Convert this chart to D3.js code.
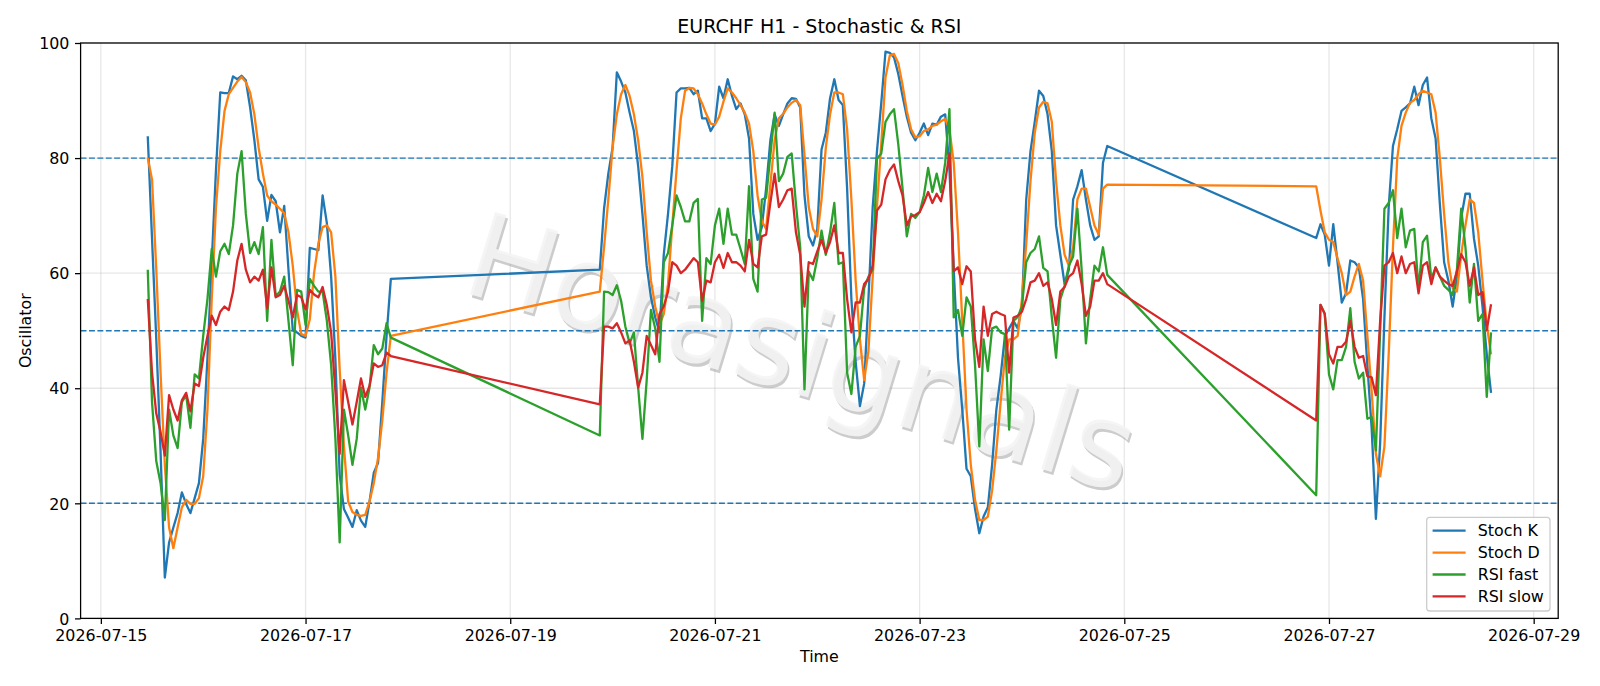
<!DOCTYPE html>
<html><head><meta charset="utf-8">
<script src="https://cdn.jsdelivr.net/npm/d3@7"></script>
<style>
body{margin:0;background:#fff;}
svg{display:block;font-family:"DejaVu Sans",sans-serif;}
</style>
</head><body>
<svg id="chart" width="1600" height="686"></svg>
<script>
// ---- data (hourly bars, three sessions) ----
const segmentStarts = ["2026-07-15T11:00:00Z", "2026-07-19T21:00:00Z", "2026-07-26T21:00:00Z"];
const segmentLengths = [58, 120, 42];

const stochK = [
  83.8,66,48.5,29,7.1,13.2,15.8,18.3,21.9,19.9,
  18.3,20.9,23.5,31.2,45.3,61.9,78,91.4,91.3,91.3,
  94.2,93.7,94.3,93.5,88.8,83.1,76.3,75,69.1,73.6,
  72.5,67.1,71.7,60.6,50.1,49.7,49.1,48.8,64.4,64.2,
  64,73.5,68.7,59.4,45,25,19,17.5,15.9,18.8,
  17,15.9,20.3,25.3,27,37.6,49.1,59,
  60.6,71.2,77.3,81.8,94.9,93.3,91.4,87.9,84.7,78.6,
  70.3,61.3,55.8,52.3,49.7,63.2,70.3,78.6,91.4,92.1,
  92.1,92.2,91.1,91.7,86.9,86.9,84.7,86,92.4,90.4,
  93.7,90.8,88.5,89.5,87.6,83.4,70.3,65.8,68,74.7,
  83.1,87.6,85.6,87.6,89.5,90.4,90.3,88.8,73.5,66.4,
  64.8,67.7,81.5,84.4,90.4,93.7,90.1,89.2,74.7,55.5,
  44.6,36.9,40.8,55.5,71.5,81.2,89.5,98.5,98.3,97.5,
  94.6,90.8,87.2,84.4,83.1,84.4,86,84,86,85.8,
  87.2,87.6,78,60.6,45.3,36.3,26,24.7,19,14.8,
  17.7,19.3,26.7,36.3,42.1,49.1,50.4,51.7,50.4,54.2,
  72.8,81.2,86.3,91.7,90.8,87.6,81.2,68.3,63.2,58.1,
  60.6,72.8,75.1,77.9,72.8,68.3,65.8,66.4,79.2,82.1,
  66.1,68.5,66.7,61.3,68.5,61.9,54.9,56.5,62.2,61.9,
  61,55.5,44,33.1,17.3,30.5,52.3,71.5,82.1,85,
  88.2,88.8,89.5,92.4,89.2,92.7,94,86.9,83.4,72,
  61.9,58.7,54.2,59.4,69.6,73.8,73.8,66,61.3,54.2,
  45.9,39.2
];
const stochD = [
  80,76.3,60.6,42.7,26.7,15.8,12.2,15.8,19.3,20.6,
  19.9,19.9,20.9,24.7,36.3,55.5,71.5,81.2,88.2,91.1,
  92.2,93.3,94.1,93.2,91.4,87.6,81.8,77.3,73.5,72.5,
  71.9,71.2,70.4,67.1,61.3,53.6,49.4,49.1,52,60,
  65.1,68,68.3,67.1,59.4,43.3,29.9,20.3,18.5,18,
  17.8,18,20.3,23.5,27.9,34.4,42.7,49.1,
  56.8,64.5,72.8,81.8,87.6,91.1,92.7,90.8,87.6,83.1,
  76.7,67.1,58.7,54.2,51,52.9,58.1,68.3,77.9,86.9,
  91.7,92.2,92.1,91.1,89.5,87.6,86,85.8,87.2,89.8,
  92.1,91.4,90.4,89.2,87.9,86,81.2,73.5,69,67.7,
  75.4,83.1,86.9,87.7,88.8,89.6,90.1,89.2,80.5,71.5,
  67.7,66.4,72.8,81.8,87.6,91.4,91.4,91.1,85,72.8,
  58.7,48.5,41.4,46.5,59.4,71.5,82.4,94,97.8,98.1,
  96.5,92.7,88.2,85,83.6,83.8,84.7,85,85.6,85.8,
  86.4,86.8,85,79.2,67.1,51.7,36.3,26.7,20.6,17.1,
  17.1,17.7,22.2,29.2,37.6,45.3,48.5,48.5,49.1,55.5,
  65.1,76,84.4,88.8,89.8,89.5,86.3,76,68.3,63.2,
  61.3,64.5,72.8,74.7,74.7,71.5,68.3,66.7,74.7,75.4,
  75.1,70.9,67.1,65.8,65.4,62.6,60,56.2,56.8,59.4,
  61.6,58.7,49.1,39.5,28.6,24.7,29.9,45.9,64.5,79.9,
  85.6,87.9,89.6,90.1,91.1,91.7,91.4,91.1,87.9,79.9,
  70.3,61.9,57.4,56.8,63.2,68.3,72.8,72.2,67.1,58.7,
  51,45.9
];
const rsiFast = [
  60.6,37.6,27.3,23.5,17.1,36.3,31.8,29.6,37.6,38.8,
  33.1,42.4,41.7,49.1,55.5,64.2,59.4,63.8,65.1,63.3,
  68.3,77.3,81.2,70.3,63.5,65.4,63.3,68,51.7,65.8,
  56,56.8,59.4,51.7,44,57.1,56.8,51,59,57.8,
  56.8,56.8,51.7,44,31.2,13.2,36.3,31.8,26.7,31.2,
  40.1,36.3,40.1,47.5,45.9,46.9,51.3,48.8,
  31.8,56.8,56.7,56.2,57.9,55.2,50.7,47.8,49.7,40.1,
  31.2,41.4,53.6,50.4,44.6,61.9,63.5,68.3,73.5,71.5,
  69,69,72.2,72.9,51.7,62.6,61.6,68.3,71.2,65.1,
  71.2,66.7,66.7,64.2,61.6,75.1,59,56.8,72.8,73.1,
  80.5,87.9,76,77.3,80.2,80.8,72,64.5,39.8,60.3,
  58.8,62.6,67.4,63.2,67.1,72.2,61.6,61.9,42.7,39,
  47.2,49.1,57.4,59.4,60.6,79.9,80.8,86.3,87.6,88.5,
  82.4,74.7,66.4,70.3,69.6,70.6,73.5,78.3,74.1,77.3,
  74.1,79.2,88.5,52.3,53.6,49.1,55.8,54.2,44,29.9,
  48.5,43,50.4,50.7,49.7,49.4,32.8,51.7,52.4,54.2,
  61.9,63.5,64.2,66.4,60.9,60.3,52.3,45.3,55.5,57.8,
  61.3,62.9,71.2,60.6,47.8,55.5,61.3,60.3,64.5,59.7,
  21.4,54.5,53,42.4,39.8,44.9,44.9,47.2,53.9,44.6,
  41.7,42.7,34.7,35,29.2,50,71.2,72.2,74.4,66.1,
  71.2,64.5,67.4,67.7,57.1,65.4,66.5,59,61,59.4,
  57.8,57.1,56.2,60.6,71.2,64.5,54.9,61.6,51.7,52.9,
  38.5,49.7
];
const rsiSlow = [
  55.5,42.7,35.6,32.4,28.3,38.8,36.3,34.4,37.9,39.2,
  36,40.8,40.4,45.3,49.1,52.6,51,53.3,54.2,53.6,
  56.8,62.2,65.1,60.6,58.4,59.4,58.7,60.6,53.9,61,
  55.8,56.2,57.8,55.2,52.3,56.2,55.8,53.7,57.1,56.3,
  55.8,57.6,54.4,49.7,39.5,28.6,41.4,37.6,33.7,37.6,
  41.7,38.5,40.4,44.3,43.7,44,46.2,45.6,
  37.2,50.7,50.7,50.4,51.3,49.7,47.8,48.3,44.6,40.1,
  42.7,49.1,47.5,45.9,52.9,54.2,56.8,61.9,61.3,60,
  60.6,61.6,62.6,61.9,55.2,58.7,58.4,61.9,63.2,60.9,
  63.5,61.9,61.9,61.3,60.3,65.8,61.6,61,66.4,66.7,
  72.2,77.3,71.5,72.8,74.4,74.7,67.1,63.2,54.2,61.9,
  61.6,63.8,65.8,63.5,65.4,68.3,63.5,63.5,55.5,49.7,
  54.9,54.9,58.1,59,61.3,70.9,71.9,76.3,77.9,78.9,
  76,73.5,68.3,69.9,70.1,70.6,72.2,74.1,72.2,73.8,
  72.5,76,80.8,60.3,61,58.1,61.2,60.3,48.5,43.7,
  54.2,49.1,52.9,53.3,52.9,52.6,42.7,52.3,52.6,53.3,
  55.5,58.4,58.7,60,57.8,58.4,55.5,51,56.8,57.6,
  59.4,60,62.2,58.1,52.6,54.2,58.7,58.7,60,58.1,
  34.4,54.5,52.9,45.9,44.3,47.2,47.2,48.1,51.7,47.2,
  45.3,45.6,42.1,41.9,38.8,51.7,61.3,61.9,63.5,60,
  62.9,60,61.6,61.9,56.5,61.3,61.9,58.1,61,59.4,
  58.7,58.1,57.8,60.3,63.3,61.9,57.8,61,56.2,56.7,
  50.1,54.6
];

const seriesNames = ["Stoch K", "Stoch D", "RSI fast", "RSI slow"];
const seriesColors = ["#1f77b4", "#ff7f0e", "#2ca02c", "#d62728"];
const xTickLabels = ["2026-07-15","2026-07-17","2026-07-19","2026-07-21","2026-07-23","2026-07-25","2026-07-27","2026-07-29"];
const yTicks = [0, 20, 40, 60, 80, 100];
const refLevels = [20, 50, 80];
const titleText = "EURCHF H1 - Stochastic & RSI";
const watermarkText = "Horasignals";

// ---- build timestamps ----
const times = [];
segmentStarts.forEach((s, i) => {
  const t0 = new Date(s).getTime();
  for (let k = 0; k < segmentLengths[i]; k++) times.push(new Date(t0 + k * 3600e3));
});
const allSeries = [stochK, stochD, rsiFast, rsiSlow];

// ---- layout ----
const svg = d3.select("#chart");
const L = 80.6, R = 1558.2, T = 43, B = 618.4;
const tMin = times[0].getTime(), tMax = times[times.length - 1].getTime();
const pad = (tMax - tMin) * 0.05;
const x = d3.scaleUtc().domain([new Date(tMin - pad), new Date(tMax + pad)]).range([L, R]);
const y = d3.scaleLinear().domain([0, 100]).range([B, T]);
const xTicks = xTickLabels.map(s => new Date(s + "T00:00:00Z"));

svg.append("rect").attr("width", 1600).attr("height", 686).attr("fill", "#fff");

// grid
const grid = svg.append("g").attr("stroke", "#b0b0b0").attr("stroke-opacity", 0.3).attr("stroke-width", 1.27);
grid.selectAll(".gx").data(xTicks).join("line")
  .attr("x1", d => x(d)).attr("x2", d => x(d)).attr("y1", T).attr("y2", B);
grid.selectAll(".gy").data(yTicks).join("line")
  .attr("x1", L).attr("x2", R).attr("y1", d => y(d)).attr("y2", d => y(d));

// watermark
const wm = svg.append("g").attr("transform", "translate(790,392) rotate(17)")
  .attr("font-size", 118).attr("text-anchor", "middle");
wm.append("text").attr("x", 2.5).attr("y", 2.5).attr("fill", "#9a9a9a").attr("fill-opacity", 0.5).text(watermarkText);
wm.append("text").attr("fill", "#f4f4f4").attr("fill-opacity", 0.9).text(watermarkText);

// reference levels
svg.append("g").selectAll("line").data(refLevels).join("line")
  .attr("x1", L).attr("x2", R).attr("y1", d => y(d)).attr("y2", d => y(d))
  .attr("stroke", "#1f77b4").attr("stroke-width", 1.4).attr("stroke-dasharray", "5.9,2.5");

// lines
const line = d3.line().x(d => x(d[0])).y(d => y(d[1]));
allSeries.forEach((vals, i) => {
  svg.append("path").datum(times.map((t, k) => [t, vals[k]]))
    .attr("d", line).attr("fill", "none").attr("stroke", seriesColors[i])
    .attr("stroke-width", 2.3).attr("stroke-linejoin", "round");
});

// spines
svg.append("rect").attr("x", L).attr("y", T).attr("width", R - L).attr("height", B - T)
  .attr("fill", "none").attr("stroke", "#000").attr("stroke-width", 1.27);

// axes
const xAxis = d3.axisBottom(x).tickValues(xTicks).tickFormat(d3.utcFormat("%Y-%m-%d")).tickSizeOuter(0).tickSize(5.6).tickPadding(5.6);
const gx = svg.append("g").attr("transform", `translate(0,${B})`).call(xAxis);
const yAxis = d3.axisLeft(y).tickValues(yTicks).tickFormat(d3.format("d")).tickSizeOuter(0).tickSize(5.6).tickPadding(5.6);
const gy = svg.append("g").attr("transform", `translate(${L},0)`).call(yAxis);
[gx, gy].forEach(g => {
  g.select(".domain").remove();
  g.selectAll(".tick line").attr("stroke", "#000").attr("stroke-width", 1.27);
  g.selectAll(".tick text").attr("font-family", "DejaVu Sans").attr("font-size", 15.87).attr("fill", "#000");
});
gx.selectAll(".tick text").attr("dy", null).attr("y", 22.6);
gy.selectAll(".tick text").attr("dy", "0.36em");

// labels
svg.append("text").attr("x", (L + R) / 2).attr("y", 33).attr("text-anchor", "middle")
  .attr("font-size", 19).text(titleText);
svg.append("text").attr("x", (L + R) / 2).attr("y", 661.5).attr("text-anchor", "middle")
  .attr("font-size", 15.87).text("Time");
svg.append("text").attr("transform", `translate(31,${(T + B) / 2}) rotate(-90)`).attr("text-anchor", "middle")
  .attr("font-size", 15.87).text("Oscillator");

// legend
const lg = svg.append("g");
lg.append("rect").attr("x", 1426.7).attr("y", 517.3).attr("width", 123.3).attr("height", 93.7)
  .attr("rx", 3).attr("fill", "#fff").attr("fill-opacity", 0.8).attr("stroke", "#cccccc").attr("stroke-width", 1.27);
const rowsY = [530.7, 552.6, 574.5, 596.4];
seriesNames.forEach((n, i) => {
  lg.append("line").attr("x1", 1432.6).attr("x2", 1465.6).attr("y1", rowsY[i]).attr("y2", rowsY[i])
    .attr("stroke", seriesColors[i]).attr("stroke-width", 2.3);
  lg.append("text").attr("x", 1477.7).attr("y", rowsY[i]).attr("dy", "0.36em").attr("font-size", 15.87).text(n);
});
</script>
</body></html>
